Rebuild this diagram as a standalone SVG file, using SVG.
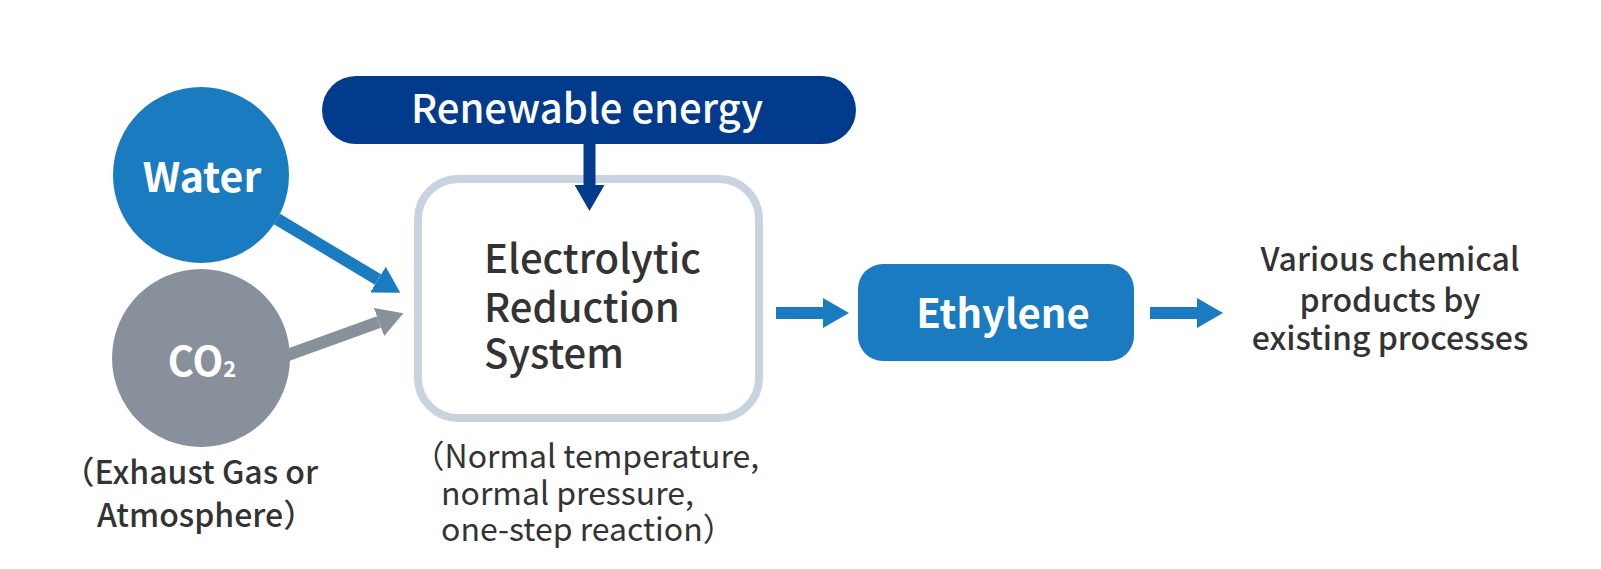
<svg xmlns="http://www.w3.org/2000/svg" width="1601" height="569" viewBox="0 0 1601 569">
<style>
  text { font-family: "Noto Sans CJK JP", "Source Sans Pro", "Noto Sans", sans-serif; }
  .wb { fill: #ffffff; font-weight: 700; }
  .wm { fill: #ffffff; font-weight: 500; }
  .dm { fill: #333333; font-weight: 500; }
  .dr { fill: #333333; font-weight: 400; }
  .blue { fill: #1a7bc1; }
  .gray { fill: #88919b; }
  .navy { fill: #023b8c; }
</style>
<defs>
  <marker id="hBlue" markerUnits="userSpaceOnUse" viewBox="0 0 26 30" markerWidth="26" markerHeight="30" refX="0" refY="15" orient="auto"><path d="M0,0 L26,15 L0,30 z" fill="#1a7bc1"/></marker>
  <marker id="hGray" markerUnits="userSpaceOnUse" viewBox="0 0 26 30" markerWidth="26" markerHeight="30" refX="0" refY="15" orient="auto"><path d="M0,0 L26,15 L0,30 z" fill="#88919b"/></marker>
  <marker id="hNavy" markerUnits="userSpaceOnUse" viewBox="0 0 26 30" markerWidth="26" markerHeight="30" refX="0" refY="15" orient="auto"><path d="M0,0 L26,15 L0,30 z" fill="#023b8c"/></marker>
</defs>
<rect width="1601" height="569" fill="#ffffff"/>

<g id="renewable-energy">
  <rect class="navy" x="322" y="76" width="534" height="68" rx="34"/>
  <text class="wm" x="587" y="123" font-size="40" text-anchor="middle">Renewable energy</text>
</g>

<g id="water">
  <circle class="blue" cx="201" cy="175" r="88"/>
  <text class="wb" x="202" y="192" font-size="41" text-anchor="middle">Water</text>
</g>

<g id="co2">
  <circle class="gray" cx="201" cy="358" r="89"/>
  <text class="wb" x="202" y="376" font-size="40" text-anchor="middle">CO<tspan font-size="22" dy="1">2</tspan></text>
  <text class="dm" font-size="32"><tspan x="62.5" y="484">（Exhaust Gas or</tspan><tspan x="97" y="527">Atmosphere）</tspan></text>
</g>

<g id="electrolytic-reduction-system">
  <rect x="418" y="179" width="341" height="239" rx="40" fill="#ffffff" stroke="#c8d3df" stroke-width="8"/>
  <text class="dm" font-size="40"><tspan x="484" y="273">Electrolytic</tspan><tspan x="484" y="322">Reduction</tspan><tspan x="484" y="368">System</tspan></text>
  <text class="dr" font-size="32"><tspan x="412.5" y="468">（Normal temperature,</tspan><tspan x="441" y="505">normal pressure,</tspan><tspan x="441" y="541">one-step reaction）</tspan></text>
</g>

<g id="ethylene">
  <rect class="blue" x="858" y="264" width="276" height="97" rx="25"/>
  <text class="wb" x="1003" y="328" font-size="40" text-anchor="middle">Ethylene</text>
</g>

<g id="chemical-products">
  <text class="dm" font-size="32" text-anchor="middle"><tspan x="1390" y="271">Various chemical</tspan><tspan x="1390" y="312">products by</tspan><tspan x="1390" y="350">existing processes</tspan></text>
</g>

<g id="connectors" fill="none" stroke-width="12">
  <line x1="277" y1="219" x2="378" y2="279.5" stroke="#1a7bc1" marker-end="url(#hBlue)"/>
  <line x1="285" y1="356" x2="379" y2="322" stroke="#88919b" marker-end="url(#hGray)"/>
  <line x1="589.5" y1="144" x2="589.5" y2="185" stroke="#023b8c" marker-end="url(#hNavy)"/>
  <line x1="776" y1="313" x2="823" y2="313" stroke="#1a7bc1" marker-end="url(#hBlue)"/>
  <line x1="1150" y1="313" x2="1197" y2="313" stroke="#1a7bc1" marker-end="url(#hBlue)"/>
</g>
</svg>
